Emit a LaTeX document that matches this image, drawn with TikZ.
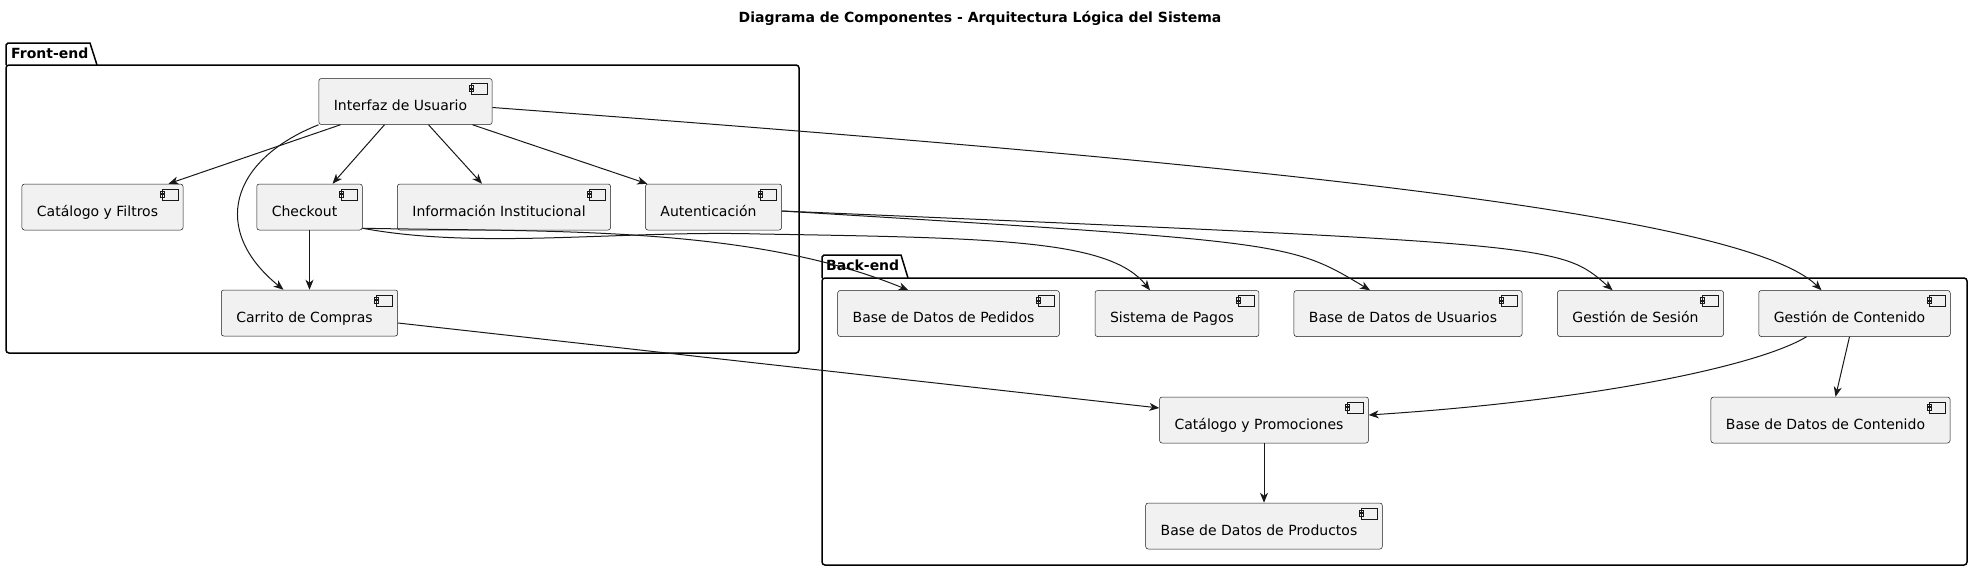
\documentclass[tikz,border=0pt]{standalone}
\usepackage{fontspec}
\setmainfont{DejaVu Sans}
\usetikzlibrary{arrows.meta}
\definecolor{compfill}{HTML}{F1F1F1}
\definecolor{compline}{HTML}{181818}

\begin{document}
\begin{tikzpicture}[x=1pt,y=-1pt,->,>={Stealth[length=10pt,width=8pt,inset=3pt]},
  node distance=106pt,
  comp node/.style={rectangle,draw=compline,fill=compfill,line width=0.5pt,
    rounded corners=2.5pt,font=\fontsize{14}{17}\selectfont,
    inner xsep=0pt,inner ysep=0pt,text height=32pt,text depth=14pt,
    execute at begin node=\hspace*{15pt},execute at end node=\hspace*{25pt},
    path picture={
      \path[-,draw=compline,fill=compfill,line width=0.5pt,sharp corners]
        ([shift={(-21pt,-5pt)}]path picture bounding box.north east) rectangle ++(16pt,-11pt)
        ([shift={(-23pt,-7pt)}]path picture bounding box.north east) rectangle ++(4pt,-2.5pt)
        ([shift={(-23pt,-10.5pt)}]path picture bounding box.north east) rectangle ++(4pt,-2.5pt);
    }},
  arr/.style={color=compline,line width=1pt},
  pkg/.style={-,draw=black,line width=1.5pt},
  pkg label/.style={font=\bfseries\fontsize{14}{17}\selectfont,anchor=base west,inner sep=0pt}]

  \useasboundingbox (0,0) rectangle (1972,571);

  \node[font=\bfseries\fontsize{14}{17}\selectfont] (title) at (980,18)
    {Diagrama de Componentes - Arquitectura Lógica del Sistema};

  % packages
  \draw[pkg] (6,65) -- (6,45) -- (8,43) -- (90,43) -- (97,65);
  \draw[pkg,rounded corners=3pt] (6,65) -- (799,65) -- (799,353) -- (6,353) -- cycle;
  \node[pkg label] (front) at (11,58) {Front-end};

  \draw[pkg] (822,278) -- (822,257) -- (824,255) -- (901,255) -- (908,278);
  \draw[pkg,rounded corners=3pt] (822,278) -- (1967,278) -- (1967,565) -- (822,565) -- cycle;
  \node[pkg label] (back) at (826,270) {Back-end};

  % front-end
  \node[comp node] (ui) at (405.5,101.5) {Interfaz de Usuario};
  \node[comp node] (catf) at (102.5,207) {Catálogo y Filtros};
  \node[comp node] (chk) at (309.5,207) {Checkout};
  \node[comp node] (info) at (504,207) {Información Institucional};
  \node[comp node] (auth) at (713.5,207) {Autenticación};
  \node[comp node] (cart) [below of=chk] {Carrito de Compras};

  % back-end
  \node[comp node] (bdped) at (948.5,313.5) {Base de Datos de Pedidos};
  \node[comp node] (pagos) at (1177,313.5) {Sistema de Pagos};
  \node[comp node] (bdusr) at (1408,313.5) {Base de Datos de Usuarios};
  \node[comp node] (sesion) at (1640.5,313.5) {Gestión de Sesión};
  \node[comp node] (gcont) at (1854.5,313.5) {Gestión de Contenido};
  \node[comp node] (catp) at (1264,420) {Catálogo y Promociones};
  \node[comp node] (bdcont) at (1830.5,420) {Base de Datos de Contenido};
  \node[comp node] (bdprod) [below of=catp] {Base de Datos de Productos};

  \path[arr]
    ([xshift=-65pt]ui.south) edge ([xshift=66pt]catf.north)
    ([xshift=-21pt]ui.south) edge ([xshift=23pt]chk.north)
    ([xshift=23pt]ui.south) edge ([xshift=-22pt]info.north)
    ([xshift=67pt]ui.south) edge ([xshift=2pt]auth.north west)
    (chk) edge (cart)
    ([yshift=-10pt]cart.east) edge ([yshift=12pt]catp.west)
    ([xshift=-5pt]gcont.south) edge ([xshift=5pt]bdcont.north)
    (catp) edge (bdprod);

  \draw[arr] (ui.south west) .. controls (230,160) and (210,230) .. ([xshift=-26pt]cart.north);
  \draw[arr] ([yshift=-6pt]ui.east) .. controls (1200,160) and (1740,210) .. ([xshift=-33pt]gcont.north);
  \draw[arr] ([yshift=2pt]chk.south east) .. controls (550,232) and (750,225) .. ([xshift=-40pt]bdped.north);
  \draw[arr] ([yshift=2pt]chk.south east) .. controls (480,250) and (620,230) .. (760,234)
    .. controls (1000,238) and (1110,240) .. ([xshift=-27pt]pagos.north);
  \draw[arr] ([yshift=-4pt]auth.east) .. controls (1290,242) .. ([xshift=-38pt]bdusr.north);
  \draw[arr] ([yshift=-4pt]auth.east) .. controls (1560,244) .. ([xshift=-28pt]sesion.north);
  \draw[arr] ([xshift=-48pt]gcont.south) .. controls (1760,365) and (1600,400) .. ([yshift=5pt]catp.east);
\end{tikzpicture}
\end{document}
